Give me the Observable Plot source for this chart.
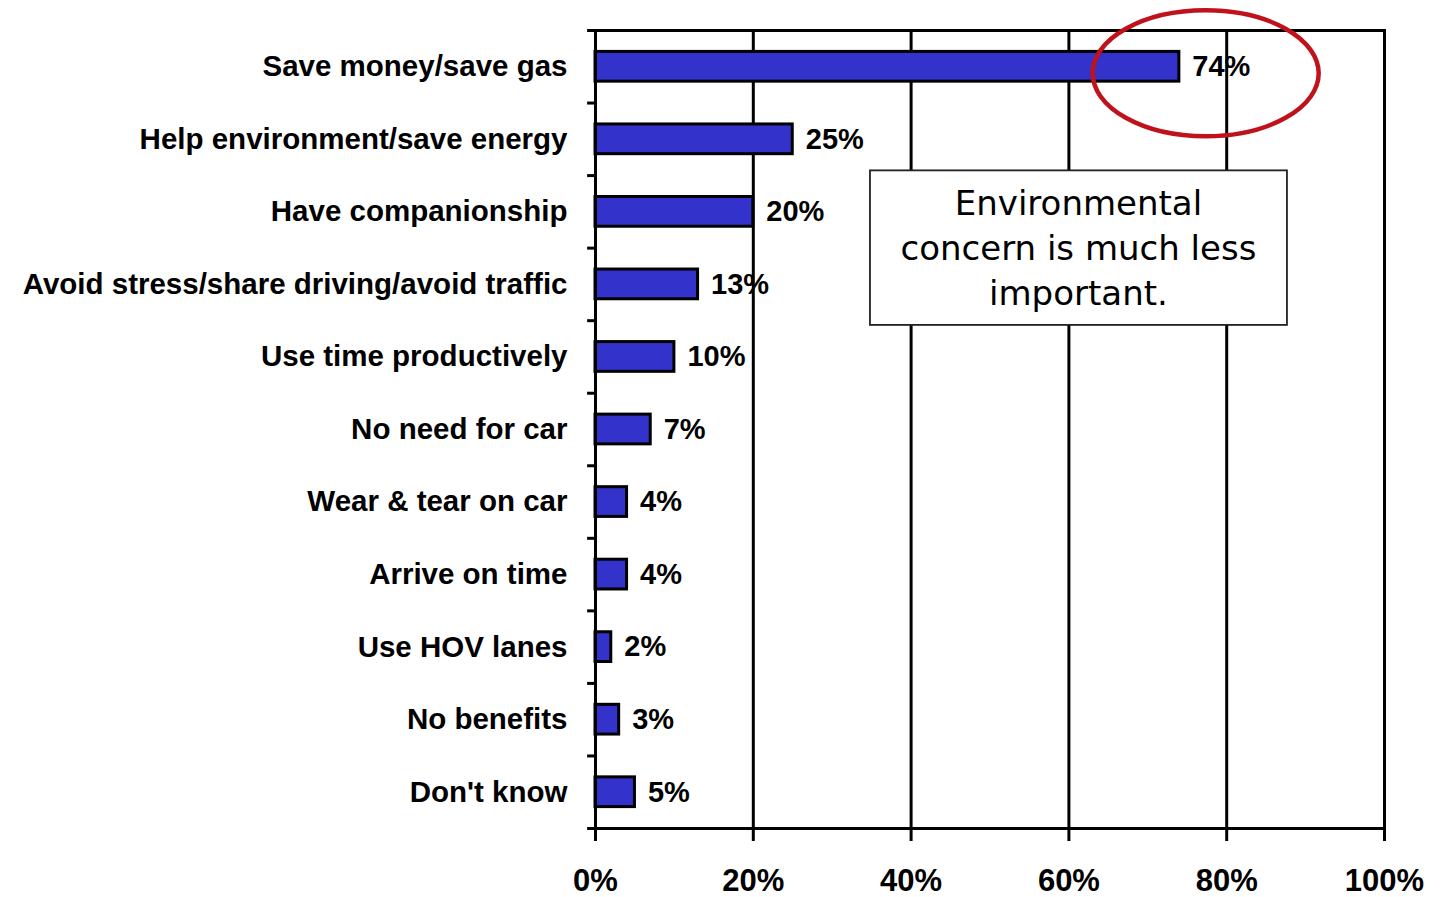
<!DOCTYPE html>
<html>
<head>
<meta charset="utf-8">
<script src="https://cdn.jsdelivr.net/npm/d3@7"></script>
<script src="https://cdn.jsdelivr.net/npm/@observablehq/plot@0.6"></script>
<style>
  body { margin: 0; background: #fff; }
  #chart { width: 1445px; height: 897px; }
</style>
</head>
<body>
<div id="chart"></div>
<script>
const categories = [
  "Save money/save gas",
  "Help environment/save energy",
  "Have companionship",
  "Avoid stress/share driving/avoid traffic",
  "Use time productively",
  "No need for car",
  "Wear & tear on car",
  "Arrive on time",
  "Use HOV lanes",
  "No benefits",
  "Don't know"
];
const values = [74, 25, 20, 13, 10, 7, 4, 4, 2, 3, 5];
const xTicks = [0, 20, 40, 60, 80, 100];
const gridTicks = [20, 40, 60, 80, 100];
const annotationLines = ["Environmental", "concern is much less", "important."];
const highlightValue = 77.4; // centre of the red ellipse, in % units

const data = categories.map((c, i) => ({category: c, value: values[i]}));

const W = 1445, H = 897;
const mTop = 30, mBottom = 69, mLeft = 595, mRight = 61;
const step = (H - mTop - mBottom) / categories.length;
const boldFont = "'Liberation Sans', Arial, sans-serif";

const chart = Plot.plot({
  width: W,
  height: H,
  marginLeft: mLeft,
  marginRight: mRight,
  marginTop: mTop,
  marginBottom: mBottom,
  style: {fontFamily: boldFont, fontWeight: "bold", color: "#000", background: "#fff", overflow: "visible"},
  x: {domain: [0, 100]},
  y: {domain: categories, paddingInner: 0.59, paddingOuter: 0.295, round: false},
  marks: [
    Plot.ruleX(gridTicks, {stroke: "#000", strokeWidth: 3}),
    Plot.barX(data, {x: "value", y: "category", fill: "#3333CC", stroke: "#000", strokeWidth: 3}),
    Plot.text(data, {x: "value", y: "category", text: d => d.value + "%", dx: 13, textAnchor: "start",
      fontSize: 29, fontWeight: "bold", fill: "#000"}),
    Plot.frame({stroke: "#000", strokeWidth: 3}),
    Plot.ruleY(categories, {y: d => d, x1: -1, x2: 0, dy: step / 2, stroke: "#000", strokeWidth: 3}),
    Plot.ruleY(categories.slice(0, 1), {y: d => d, x1: -1, x2: 0, dy: -step / 2, stroke: "#000", strokeWidth: 3}),
    Plot.axisX({ticks: xTicks, tickFormat: d => d + "%", tickSize: 13, tickPadding: 27, strokeWidth: 3,
      fontSize: 31, fontWeight: "bold", label: null}),
    Plot.axisY({tickSize: 0, tickPadding: 28, fontSize: 29.5, fontWeight: "bold", label: null})
  ]
});

document.getElementById("chart").appendChild(chart);

// Annotations positioned with the chart's own scales
const xs = chart.scale("x");
const ys = chart.scale("y");
const bw = ys.bandwidth;
const yc = c => ys.apply(c) + bw / 2;
const svg = d3.select(chart);

// red ellipse around the top bar's label
svg.append("ellipse")
  .attr("cx", xs.apply(highlightValue))
  .attr("cy", yc(categories[0]) + 7)
  .attr("rx", 113)
  .attr("ry", 63)
  .attr("fill", "none")
  .attr("stroke", "#C0121B")
  .attr("stroke-width", 4.5);

// text box
const bx1 = xs.apply(34.85), bx2 = xs.apply(87.7);
const by1 = yc(categories[2]) - 41, by2 = yc(categories[3]) + 41;
svg.append("rect")
  .attr("x", bx1).attr("y", by1)
  .attr("width", bx2 - bx1).attr("height", by2 - by1)
  .attr("fill", "#fff").attr("stroke", "#222").attr("stroke-width", 1.8);
const t = svg.append("text")
  .attr("text-anchor", "middle")
  .attr("font-family", "'DejaVu Sans', Verdana, sans-serif")
  .attr("font-weight", "normal")
  .attr("font-size", 34)
  .attr("fill", "#000");
annotationLines.forEach((line, i) => {
  t.append("tspan")
    .attr("x", (bx1 + bx2) / 2)
    .attr("y", by1 + 45 + i * 45)
    .text(line);
});
</script>
</body>
</html>
